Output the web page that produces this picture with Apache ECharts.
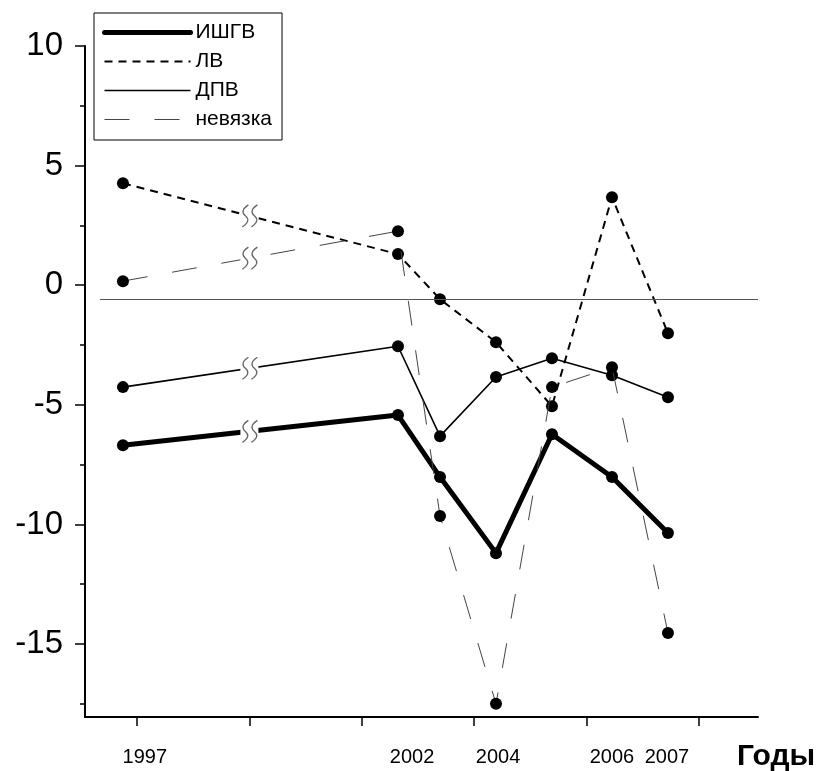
<!DOCTYPE html>
<html>
<head>
<meta charset="utf-8">
<script src="https://cdn.jsdelivr.net/npm/echarts@6/dist/echarts.min.js"></script>
<style>html,body{margin:0;padding:0;background:#fff}#chart{width:821px;height:771px}</style>
</head>
<body>
<div id="chart"></div>
<script>
// Positions of the data points along the (broken) x axis, in tick units
const xPositions = [-0.125, 2.322, 2.696, 3.194, 3.692, 4.226, 4.724];
const years = ['1997', '2002', '2003', '2004', '2005', '2006', '2007'];
// Year labels shown under the axis and their positions
const labelYears = ['1997', '2002', '2004', '2006', '2007'];
const labelPositions = [0.07, 2.447, 3.212, 4.226, 4.715];
const xTicks = [0, 1, 2, 3, 4, 5];
const yTicks = [-15, -10, -5, 0, 5, 10];
const yMinorTicks = [-17.5, -12.5, -7.5, -2.5, 2.5, 7.5];
const breakAt = 1;
const refLineY = -0.58;

const ishgv = [-6.69, -5.43, -8.02, -11.2, -6.23, -8.02, -10.36];
const lv = [4.26, 1.30, -0.585, -2.38, -5.06, 3.68, -2.01];
const dpv = [-4.26, -2.55, -6.31, -3.84, -3.05, -3.76, -4.68];
const nevyazka = [0.17, 2.26, -9.65, -17.5, -4.26, -3.43, -14.54];

const seriesNames = ['ИШГВ', 'ЛВ', 'ДПВ', 'невязка'];
const seriesValues = [ishgv, lv, dpv, nevyazka];

const X_MIN = -0.4626, X_MAX = 5.525, Y_MIN = -18.05, Y_MAX = 10;
const FONT = 'Arial, "Liberation Sans", sans-serif';

function pairs(vals) { return vals.map((v, i) => [xPositions[i], v]); }

const lineStyles = [
  { color: '#000', width: 5, type: 'solid', cap: 'round' },
  { color: '#000', width: 2, type: [8, 6] },
  { color: '#000', width: 1.6, type: 'solid' },
  { color: '#444', width: 1, type: [25, 25] }
];

const series = seriesValues.map((vals, k) => ({
  name: seriesNames[k],
  type: 'line',
  data: pairs(vals),
  symbol: 'circle',
  symbolSize: 12,
  itemStyle: { color: '#000' },
  lineStyle: lineStyles[k],
  z: 2 + k,
  animation: false,
  clip: false
}));

// horizontal reference line
series[2].markLine = {
  symbol: 'none', silent: true, animation: false,
  label: { show: false },
  lineStyle: { color: '#555', width: 1, type: 'solid' },
  data: [[{ coord: [-0.33, refLineY] }, { coord: [X_MAX, refLineY] }]]
};

// break marks on the segments 1997-2002, placed where each line crosses the break tick
const breakData = seriesValues.map(vals => {
  const t = (breakAt - xPositions[0]) / (xPositions[1] - xPositions[0]);
  return [breakAt, vals[0] + t * (vals[1] - vals[0])];
});
series.push({
  name: 'break', type: 'custom', z: 20, animation: false, silent: true,
  data: breakData,
  renderItem: function (params, api) {
    const p = api.coord([api.value(0), api.value(1)]);
    const x = p[0], y = p[1];
    const wave = (cx) => ({
      type: 'path',
      shape: { pathData: `M${cx + 3},${y - 11} Q${cx - 6},${y - 5} ${cx},${y} Q${cx + 6},${y + 5} ${cx - 3},${y + 11}` },
      style: { stroke: '#666', lineWidth: 1.3, fill: null }
    });
    return {
      type: 'group',
      children: [
        { type: 'rect', shape: { x: x - 9, y: y - 12, width: 18, height: 24 }, style: { fill: '#fff' } },
        wave(x - 4), wave(x + 5)
      ]
    };
  }
});

const chart = echarts.init(document.getElementById('chart'), null, { renderer: 'canvas' });
chart.setOption({
  animation: false,
  backgroundColor: '#fff',
  textStyle: { fontFamily: FONT },
  grid: { left: 85, right: 63, top: 46, bottom: 54, containLabel: false, outerBoundsMode: 'none' },
  legend: {
    data: seriesNames.map((n, k) => ({ name: n, lineStyle: lineStyles[k] })),
    orient: 'vertical',
    left: 94, top: 13,
    padding: [9, 10, 10, 8],
    itemWidth: 86, itemHeight: 14, itemGap: 8,
    borderColor: '#000', borderWidth: 1,
    backgroundColor: '#fff',
    itemStyle: { opacity: 0 },
    textStyle: { fontFamily: FONT, fontSize: 21, color: '#000', lineHeight: 21 },
    selectedMode: false
  },
  xAxis: [{
    type: 'value', min: X_MIN, max: X_MAX,
    splitLine: { show: false },
    axisLine: { show: true, onZero: false, lineStyle: { color: '#000', width: 2 } },
    axisTick: { show: true, customValues: xTicks, length: 9, lineStyle: { color: '#000', width: 1.5 } },
    axisLabel: {
      show: true, customValues: labelPositions, margin: 30,
      fontSize: 20, color: '#000', fontFamily: FONT,
      formatter: function (v) {
        let best = 0;
        labelPositions.forEach((p, i) => { if (Math.abs(p - v) < Math.abs(labelPositions[best] - v)) best = i; });
        return labelYears[best];
      }
    },
    name: 'Годы', nameLocation: 'end', nameGap: -21,
    nameTextStyle: { fontSize: 30, fontWeight: 'bold', color: '#000', fontFamily: FONT, verticalAlign: 'top', lineHeight: 80 }
  }],
  yAxis: [{
    type: 'value', min: Y_MIN, max: Y_MAX,
    splitLine: { show: false },
    axisLine: { show: true, onZero: false, lineStyle: { color: '#000', width: 2 } },
    axisTick: { show: true, customValues: yTicks, length: 10, lineStyle: { color: '#000', width: 1.5 } },
    axisLabel: { show: true, customValues: yTicks, margin: 22, fontSize: 33, color: '#000', fontFamily: FONT }
  }, {
    type: 'value', min: Y_MIN, max: Y_MAX, position: 'left',
    splitLine: { show: false },
    axisLine: { show: false, onZero: false },
    axisTick: { show: true, customValues: yMinorTicks, length: 5, lineStyle: { color: '#000', width: 1.5 } },
    axisLabel: { show: false }
  }],
  series: series
});
</script>
</body>
</html>
